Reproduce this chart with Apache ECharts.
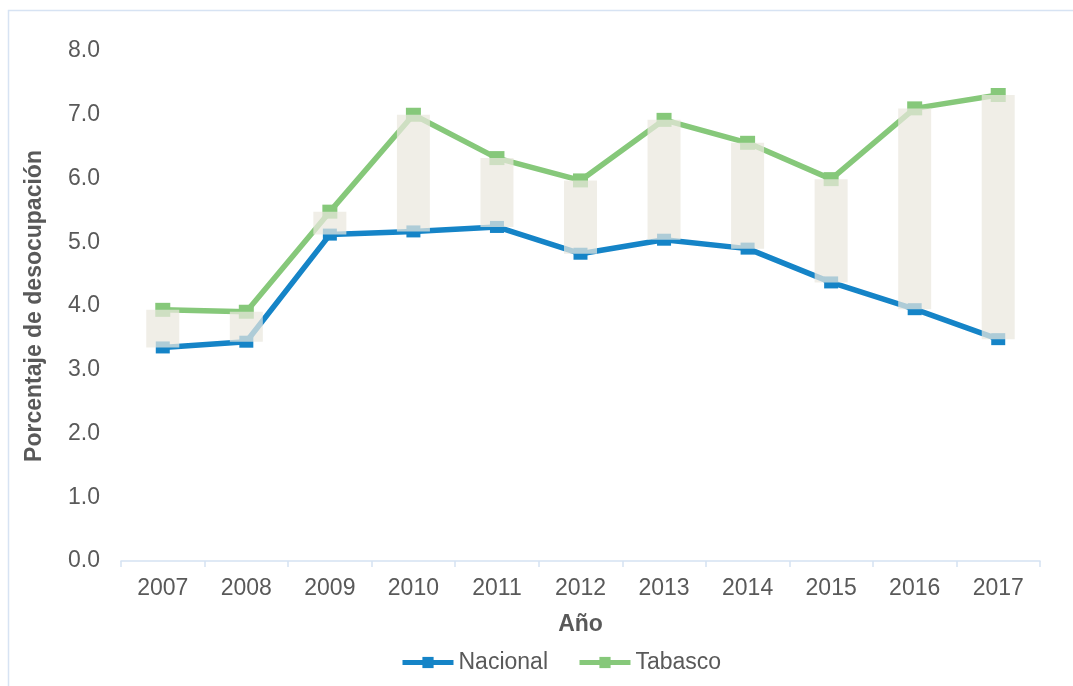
<!DOCTYPE html>
<html>
<head>
<meta charset="utf-8">
<script src="https://cdn.jsdelivr.net/npm/echarts@6/dist/echarts.min.js"></script>
<style>
  html, body { margin: 0; padding: 0; background: #ffffff; }
  #chart { width: 1073px; height: 686px; }
</style>
</head>
<body>
<div id="chart"></div>
<script>
// Tasa de desocupación (%) — Nacional vs. Tabasco, 2007-2017
const years = ['2007', '2008', '2009', '2010', '2011', '2012', '2013', '2014', '2015', '2016', '2017'];
const nacional = [3.35, 3.44, 5.12, 5.17, 5.24, 4.82, 5.04, 4.90, 4.37, 3.95, 3.48];
const tabasco  = [3.94, 3.91, 5.48, 7.00, 6.32, 5.97, 6.92, 6.56, 5.99, 7.10, 7.31];
const yTicks = [0, 1, 2, 3, 4, 5, 6, 7, 8];

// Up/down band between both series: invisible base + visible gap
const bandBase = years.map((_, i) => Math.min(nacional[i], tabasco[i]));
const bandGap = years.map((_, i) => Math.abs(tabasco[i] - nacional[i]));

const textColor = '#595959';
const font = 'Arial, "Liberation Sans", sans-serif';
const blue = '#1584c7';
const green = '#86c87a';

const chart = echarts.init(document.getElementById('chart'), null, { renderer: 'canvas' });

chart.setOption({
  animation: false,
  backgroundColor: '#ffffff',
  textStyle: { fontFamily: font },
  graphic: [{
    type: 'rect',
    silent: true,
    shape: { x: 8.5, y: 10.5, width: 1200, height: 800 },
    style: { fill: 'none', stroke: '#d7e3f3', lineWidth: 1.5 }
  }],
  grid: { left: 121, right: 33, top: 51, bottom: 125 },
  legend: {
    left: 395,
    top: 646,
    itemWidth: 51,
    itemHeight: 14,
    itemGap: 29,
    data: ['Nacional', 'Tabasco'],
    lineStyle: { width: 5 },
    textStyle: { color: textColor, fontSize: 23, fontFamily: font }
  },
  xAxis: {
    type: 'category',
    data: years,
    boundaryGap: true,
    name: 'Año',
    nameLocation: 'middle',
    nameGap: 52,
    nameTextStyle: { color: textColor, fontSize: 23, fontWeight: 'bold', fontFamily: font },
    axisLine: { show: true, lineStyle: { color: '#d5e2f2', width: 1.5 } },
    axisTick: { show: true, length: 6, lineStyle: { color: '#d5e2f2', width: 1.5 } },
    axisLabel: { color: textColor, fontSize: 23, margin: 16, fontFamily: font },
    splitLine: { show: false }
  },
  yAxis: {
    type: 'value',
    min: yTicks[0],
    max: yTicks[yTicks.length - 1],
    interval: 1,
    name: 'Porcentaje de desocupación',
    nameLocation: 'middle',
    nameRotate: 90,
    nameGap: 75,
    nameTextStyle: { color: textColor, fontSize: 23, fontWeight: 'bold', fontFamily: font },
    axisLine: { show: false },
    axisTick: { show: false },
    splitLine: { show: false },
    axisLabel: {
      color: textColor, fontSize: 23, margin: 21, fontFamily: font,
      formatter: v => v.toFixed(1)
    }
  },
  series: [
    {
      name: 'Nacional',
      type: 'line',
      data: nacional,
      z: 2,
      symbol: 'rect',
      symbolSize: [14, 12],
      lineStyle: { color: blue, width: 5.5 },
      itemStyle: { color: blue },
      emphasis: { disabled: true }
    },
    {
      name: 'Tabasco',
      type: 'line',
      data: tabasco,
      z: 2,
      symbol: 'rect',
      symbolSize: [15, 14],
      lineStyle: { color: green, width: 5.5 },
      itemStyle: { color: green },
      emphasis: { disabled: true }
    },
    {
      name: 'base',
      type: 'bar',
      stack: 'band',
      data: bandBase,
      barWidth: 33,
      z: 3,
      itemStyle: { color: 'rgba(0,0,0,0)' },
      emphasis: { disabled: true },
      silent: true
    },
    {
      name: 'band',
      type: 'bar',
      stack: 'band',
      data: bandGap,
      barWidth: 33,
      z: 3,
      itemStyle: { color: 'rgba(234,232,222,0.72)' },
      emphasis: { disabled: true },
      silent: true
    }
  ]
});
</script>
</body>
</html>
